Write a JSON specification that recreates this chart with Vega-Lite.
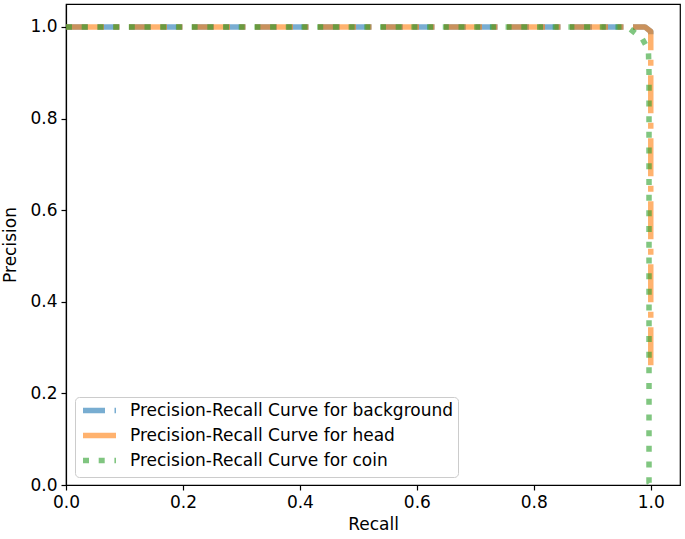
{
  "$schema": "https://vega.github.io/schema/vega-lite/v6.json",
  "width": 614,
  "height": 481,
  "autosize": {"type": "none"},
  "padding": {"left": 66, "top": 4, "right": 5, "bottom": 54},
  "background": "white",
  "config": {
    "font": "DejaVu Sans",
    "view": {"stroke": "black", "strokeWidth": 1.2},
    "axis": {
      "domainColor": "black", "tickColor": "black", "grid": false, "labelFlush": false,
      "labelFont": "DejaVu Sans", "labelFontSize": 17, "labelColor": "black",
      "titleFont": "DejaVu Sans", "titleFontSize": 17, "titleFontWeight": "normal", "titleColor": "black",
      "tickSize": 5, "labelPadding": 4, "domainWidth": 1.2, "tickWidth": 1.2
    }
  },
  "data": {
    "values": [
      {"series": "Precision-Recall Curve for background", "o": 0, "recall": 0.0, "precision": 1.0},
      {"series": "Precision-Recall Curve for background", "o": 1, "recall": 0.99, "precision": 1.0},
      {"series": "Precision-Recall Curve for background", "o": 2, "recall": 1.0, "precision": 0.99},
      {"series": "Precision-Recall Curve for background", "o": 3, "recall": 1.0, "precision": 0.982},
      {"series": "Precision-Recall Curve for head", "o": 0, "recall": 0.0, "precision": 1.0},
      {"series": "Precision-Recall Curve for head", "o": 1, "recall": 0.99, "precision": 1.0},
      {"series": "Precision-Recall Curve for head", "o": 2, "recall": 1.0, "precision": 0.99},
      {"series": "Precision-Recall Curve for head", "o": 3, "recall": 1.0, "precision": 0.25},
      {"series": "Precision-Recall Curve for coin", "o": 0, "recall": 0.0, "precision": 1.0},
      {"series": "Precision-Recall Curve for coin", "o": 1, "recall": 0.96, "precision": 1.0},
      {"series": "Precision-Recall Curve for coin", "o": 2, "recall": 0.985, "precision": 0.975},
      {"series": "Precision-Recall Curve for coin", "o": 3, "recall": 0.996, "precision": 0.95},
      {"series": "Precision-Recall Curve for coin", "o": 4, "recall": 0.997, "precision": 0.9},
      {"series": "Precision-Recall Curve for coin", "o": 5, "recall": 0.997, "precision": 0.005},
      {"series": "Precision-Recall Curve for coin", "o": 6, "recall": 1.0, "precision": 0.0}
    ]
  },
  "mark": {"type": "line", "strokeWidth": 5.5, "strokeOpacity": 0.6, "strokeJoin": "round", "strokeCap": "butt", "clip": true},
  "encoding": {
    "x": {"field": "recall", "type": "quantitative", "title": "Recall",
      "scale": {"domain": [0, 1.05], "nice": false, "zero": false},
      "axis": {"values": [0, 0.2, 0.4, 0.6, 0.8, 1.0], "format": ".1f", "titlePadding": 6}},
    "y": {"field": "precision", "type": "quantitative", "title": "Precision",
      "scale": {"domain": [0, 1.05], "nice": false, "zero": false},
      "axis": {"values": [0, 0.2, 0.4, 0.6, 0.8, 1.0], "format": ".1f", "titlePadding": 10}},
    "order": {"field": "o", "type": "quantitative"},
    "color": {"field": "series", "type": "nominal",
      "scale": {"domain": ["Precision-Recall Curve for background", "Precision-Recall Curve for head", "Precision-Recall Curve for coin"],
        "range": ["#1f77b4", "#ff7f0e", "#2ca02c"]},
      "legend": {"title": null, "orient": "none", "legendX": 9, "legendY": 393,
        "symbolType": "M-1,0H5", "symbolSize": 121, "symbolStrokeWidth": 5.5, "symbolOpacity": 0.6,
        "labelFontSize": 17, "labelFont": "DejaVu Sans", "labelColor": "black", "labelOffset": 33, "labelLimit": 420,
        "rowPadding": 2, "padding": 5, "strokeColor": "#cccccc", "fillColor": "white", "cornerRadius": 4}},
    "strokeDash": {"field": "series", "type": "nominal",
      "scale": {"domain": ["Precision-Recall Curve for background", "Precision-Recall Curve for head", "Precision-Recall Curve for coin"],
        "range": [[22, 9.5], [38, 9.5, 6, 9.5], [6, 9.7]]},
      "legend": null}
  }
}
